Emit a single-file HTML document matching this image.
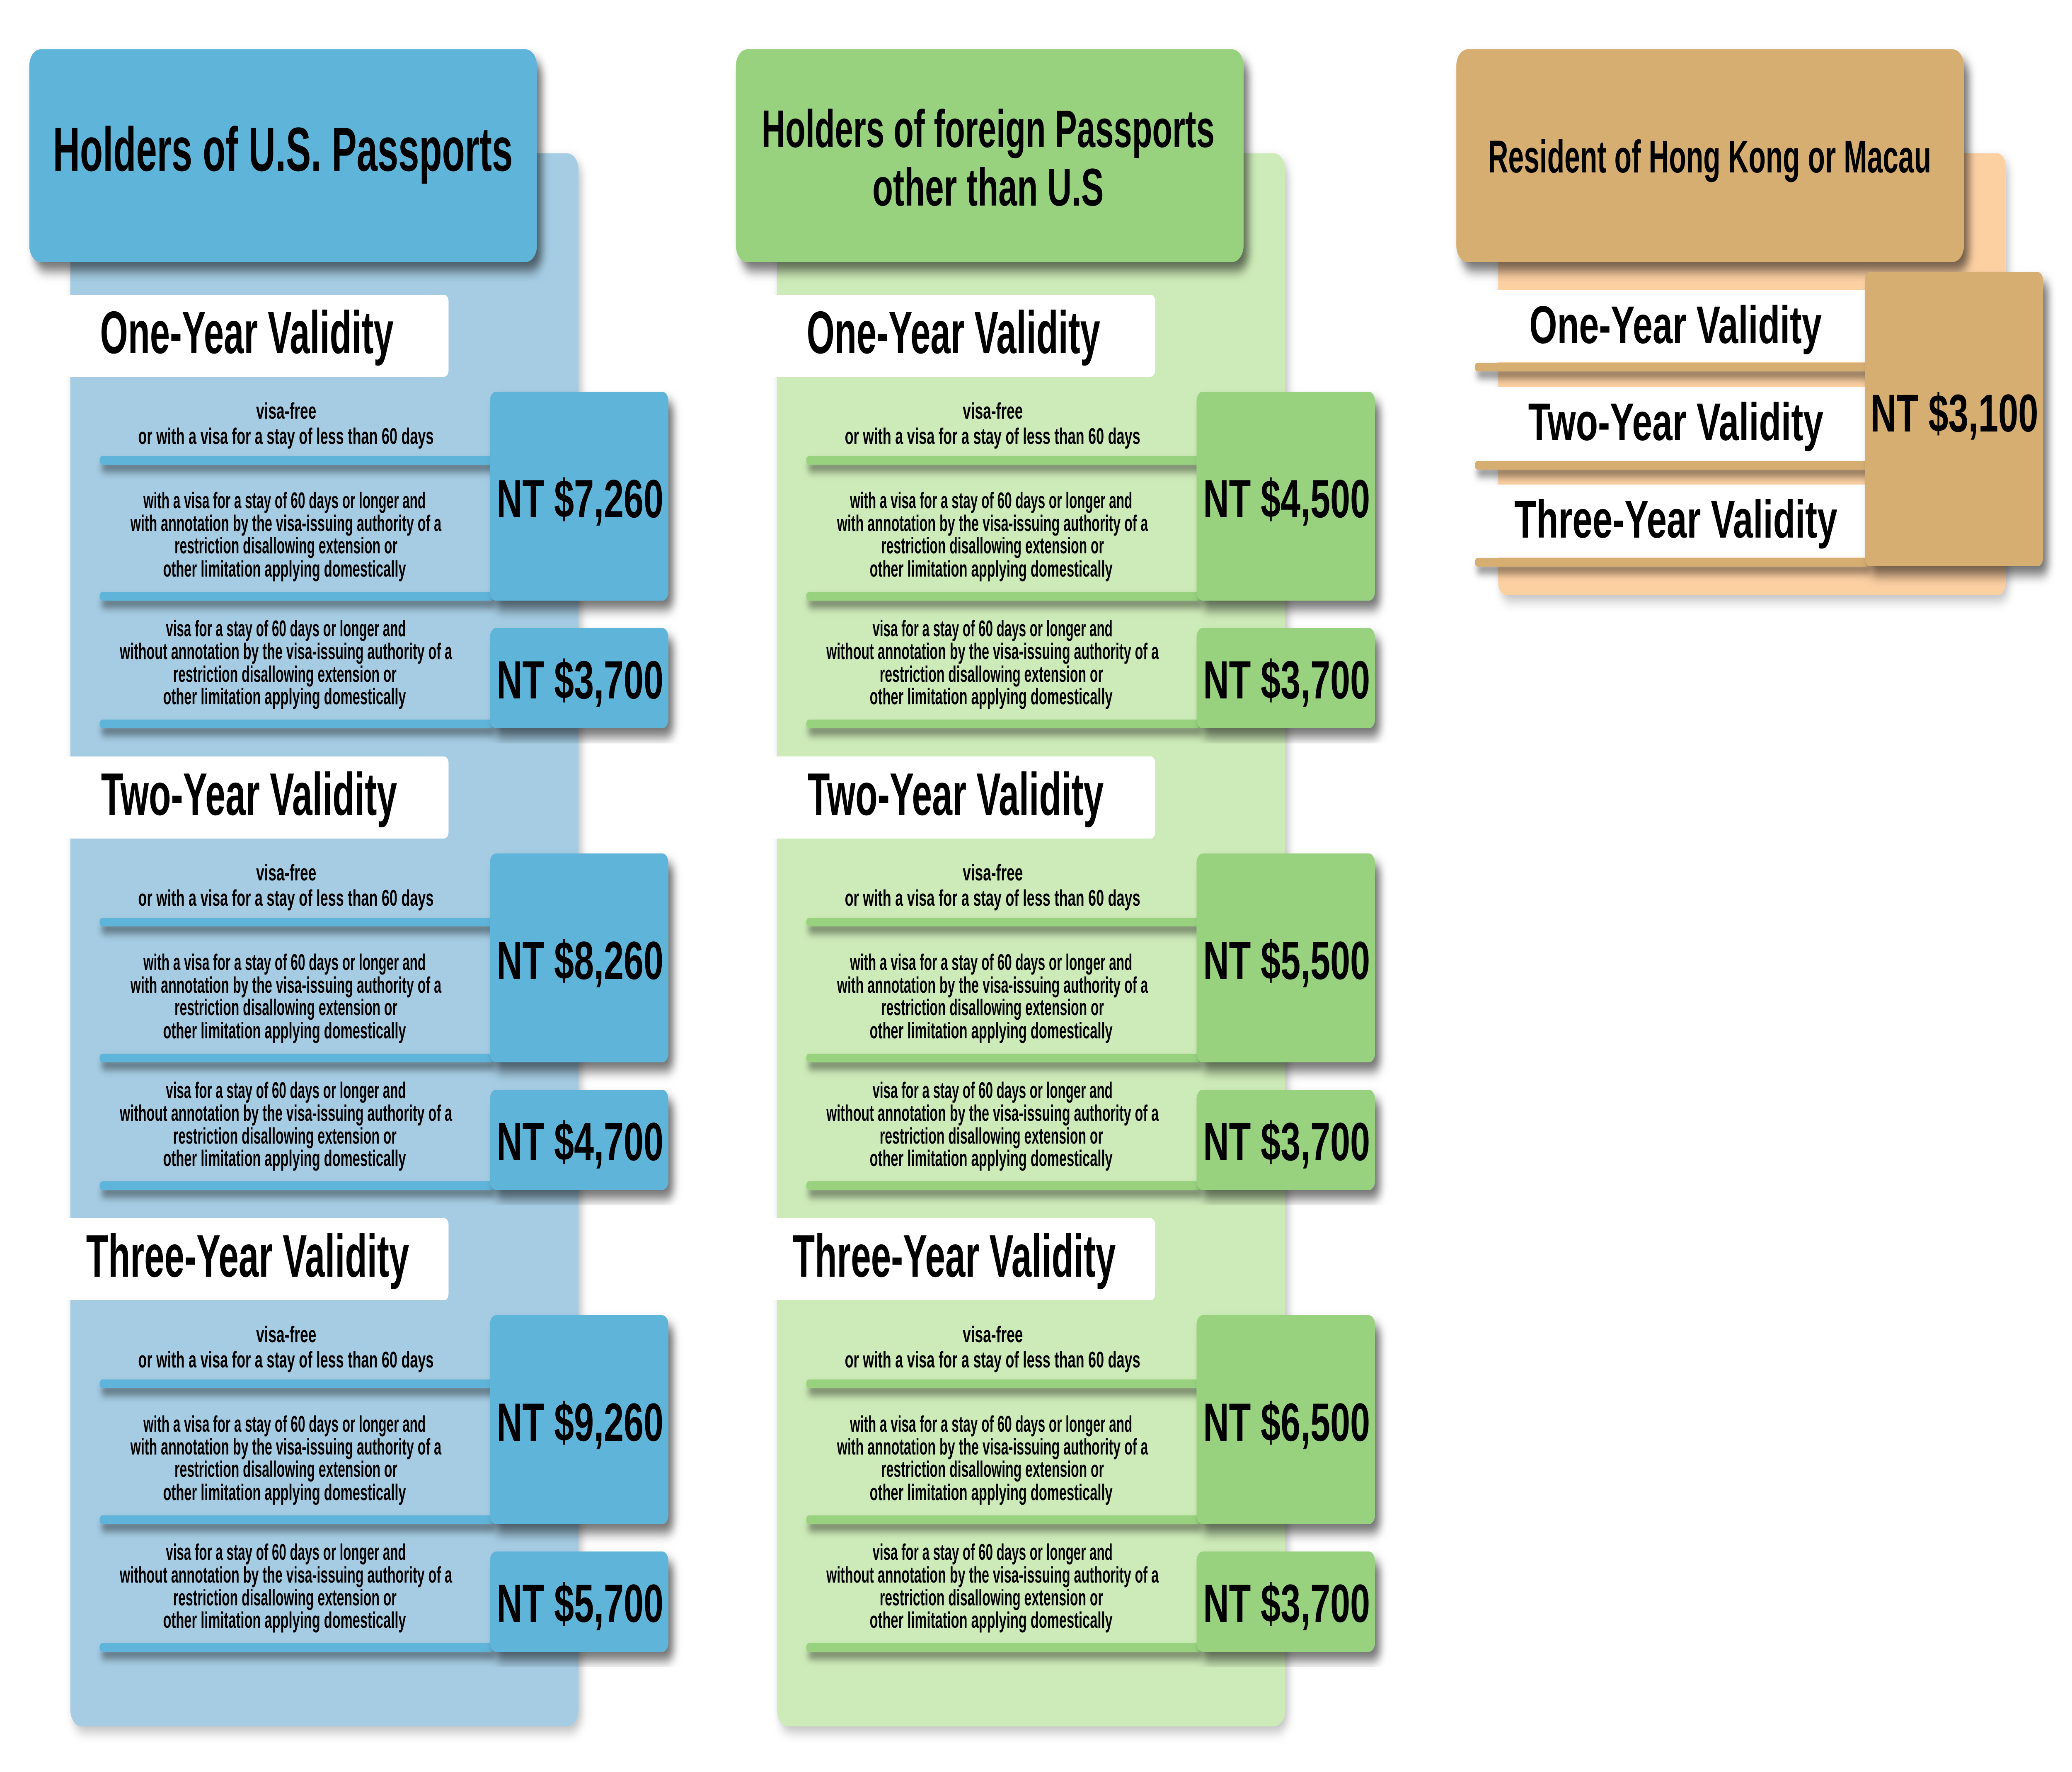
<!DOCTYPE html>
<html><head><meta charset="utf-8"><style>
html,body{margin:0;padding:0;background:#fff;width:100%;height:100%;overflow:hidden;}
svg{display:block;position:absolute;left:0;top:0;width:100vw;height:100vh;overflow:hidden;}
text{font-family:"Liberation Sans",sans-serif;font-weight:bold;fill:#000;}
</style></head><body>
<svg viewBox="0 0 7363 4275" preserveAspectRatio="none" xmlns="http://www.w3.org/2000/svg">
<defs>
<filter id="sh" x="-10%" y="-10%" width="125%" height="125%"><feDropShadow dx="18" dy="22" stdDeviation="14" flood-color="#000" flood-opacity="0.55"/></filter>
<filter id="shl" x="-2%" y="-100%" width="104%" height="500%"><feDropShadow dx="6" dy="16" stdDeviation="10" flood-color="#000" flood-opacity="0.5"/></filter>
<filter id="shs" x="-5%" y="-5%" width="110%" height="110%"><feDropShadow dx="10" dy="14" stdDeviation="14" flood-color="#000" flood-opacity="0.25"/></filter>
</defs>

<rect x="250" y="370" width="1806" height="3795" rx="40" fill="#a5cce3" filter="url(#shs)"/>
<rect x="104" y="119" width="1804" height="513" rx="40" fill="#5fb4d9" filter="url(#sh)"/>
<text x="1005" y="412" font-size="150" text-anchor="middle" textLength="1634" lengthAdjust="spacingAndGlyphs">Holders of U.S. Passports</text>

<g transform="translate(2511,0)">
<rect x="250" y="370" width="1806" height="3795" rx="40" fill="#cdebb8" filter="url(#shs)"/>
<rect x="104" y="119" width="1804" height="513" rx="40" fill="#98d27f" filter="url(#sh)"/>
<text x="1000" y="355" font-size="128" text-anchor="middle" textLength="1610" lengthAdjust="spacingAndGlyphs">Holders of foreign Passports</text>
<text x="1000" y="496" font-size="128" text-anchor="middle" textLength="822" lengthAdjust="spacingAndGlyphs">other than U.S</text>
</g>

<g transform="translate(0,711)">
<rect x="223" y="0" width="1371" height="198" rx="16" fill="#fff"/>
<text x="877" y="141" font-size="145" text-anchor="middle" textLength="1043" lengthAdjust="spacingAndGlyphs">One-Year Validity</text>
<text x="1017" y="299" font-size="55" text-anchor="middle" textLength="214" lengthAdjust="spacingAndGlyphs">visa-free</text>
<text x="1016" y="360" font-size="55" text-anchor="middle" textLength="1050" lengthAdjust="spacingAndGlyphs">or with a visa for a stay of less than 60 days</text>
<text x="1011" y="515" font-size="55" text-anchor="middle" textLength="1003" lengthAdjust="spacingAndGlyphs">with a visa for a stay of 60 days or longer and</text>
<text x="1016" y="570" font-size="55" text-anchor="middle" textLength="1105" lengthAdjust="spacingAndGlyphs">with annotation by the visa-issuing authority of a</text>
<text x="1016" y="624" font-size="55" text-anchor="middle" textLength="792" lengthAdjust="spacingAndGlyphs">restriction disallowing extension or</text>
<text x="1011" y="680" font-size="55" text-anchor="middle" textLength="863" lengthAdjust="spacingAndGlyphs">other limitation applying domestically</text>
<text x="1016" y="824" font-size="55" text-anchor="middle" textLength="853" lengthAdjust="spacingAndGlyphs">visa for a stay of 60 days or longer and</text>
<text x="1016" y="879" font-size="55" text-anchor="middle" textLength="1181" lengthAdjust="spacingAndGlyphs">without annotation by the visa-issuing authority of a</text>
<text x="1012" y="934" font-size="55" text-anchor="middle" textLength="794" lengthAdjust="spacingAndGlyphs">restriction disallowing extension or</text>
<text x="1011" y="988" font-size="55" text-anchor="middle" textLength="863" lengthAdjust="spacingAndGlyphs">other limitation applying domestically</text>
<rect x="354" y="389" width="1400" height="21" rx="10" fill="#5fb4d9" filter="url(#shl)"/>
<rect x="354" y="717" width="1400" height="21" rx="10" fill="#5fb4d9" filter="url(#shl)"/>
<rect x="354" y="1025" width="1400" height="21" rx="10" fill="#5fb4d9" filter="url(#shl)"/>
<rect x="1741" y="234" width="634" height="504" rx="22" fill="#5fb4d9" filter="url(#sh)"/>
<rect x="1741" y="804" width="634" height="242" rx="22" fill="#5fb4d9" filter="url(#sh)"/>
<text x="2061" y="537" font-size="130" text-anchor="middle" textLength="593" lengthAdjust="spacingAndGlyphs">NT $7,260</text>
<text x="2061" y="974" font-size="130" text-anchor="middle" textLength="593" lengthAdjust="spacingAndGlyphs">NT $3,700</text>
</g>

<g transform="translate(0,1825)">
<rect x="223" y="0" width="1371" height="198" rx="16" fill="#fff"/>
<text x="885" y="141" font-size="145" text-anchor="middle" textLength="1052" lengthAdjust="spacingAndGlyphs">Two-Year Validity</text>
<text x="1017" y="299" font-size="55" text-anchor="middle" textLength="214" lengthAdjust="spacingAndGlyphs">visa-free</text>
<text x="1016" y="360" font-size="55" text-anchor="middle" textLength="1050" lengthAdjust="spacingAndGlyphs">or with a visa for a stay of less than 60 days</text>
<text x="1011" y="515" font-size="55" text-anchor="middle" textLength="1003" lengthAdjust="spacingAndGlyphs">with a visa for a stay of 60 days or longer and</text>
<text x="1016" y="570" font-size="55" text-anchor="middle" textLength="1105" lengthAdjust="spacingAndGlyphs">with annotation by the visa-issuing authority of a</text>
<text x="1016" y="624" font-size="55" text-anchor="middle" textLength="792" lengthAdjust="spacingAndGlyphs">restriction disallowing extension or</text>
<text x="1011" y="680" font-size="55" text-anchor="middle" textLength="863" lengthAdjust="spacingAndGlyphs">other limitation applying domestically</text>
<text x="1016" y="824" font-size="55" text-anchor="middle" textLength="853" lengthAdjust="spacingAndGlyphs">visa for a stay of 60 days or longer and</text>
<text x="1016" y="879" font-size="55" text-anchor="middle" textLength="1181" lengthAdjust="spacingAndGlyphs">without annotation by the visa-issuing authority of a</text>
<text x="1012" y="934" font-size="55" text-anchor="middle" textLength="794" lengthAdjust="spacingAndGlyphs">restriction disallowing extension or</text>
<text x="1011" y="988" font-size="55" text-anchor="middle" textLength="863" lengthAdjust="spacingAndGlyphs">other limitation applying domestically</text>
<rect x="354" y="389" width="1400" height="21" rx="10" fill="#5fb4d9" filter="url(#shl)"/>
<rect x="354" y="717" width="1400" height="21" rx="10" fill="#5fb4d9" filter="url(#shl)"/>
<rect x="354" y="1025" width="1400" height="21" rx="10" fill="#5fb4d9" filter="url(#shl)"/>
<rect x="1741" y="234" width="634" height="504" rx="22" fill="#5fb4d9" filter="url(#sh)"/>
<rect x="1741" y="804" width="634" height="242" rx="22" fill="#5fb4d9" filter="url(#sh)"/>
<text x="2061" y="537" font-size="130" text-anchor="middle" textLength="593" lengthAdjust="spacingAndGlyphs">NT $8,260</text>
<text x="2061" y="974" font-size="130" text-anchor="middle" textLength="593" lengthAdjust="spacingAndGlyphs">NT $4,700</text>
</g>

<g transform="translate(0,2939)">
<rect x="223" y="0" width="1371" height="198" rx="16" fill="#fff"/>
<text x="880" y="141" font-size="145" text-anchor="middle" textLength="1148" lengthAdjust="spacingAndGlyphs">Three-Year Validity</text>
<text x="1017" y="299" font-size="55" text-anchor="middle" textLength="214" lengthAdjust="spacingAndGlyphs">visa-free</text>
<text x="1016" y="360" font-size="55" text-anchor="middle" textLength="1050" lengthAdjust="spacingAndGlyphs">or with a visa for a stay of less than 60 days</text>
<text x="1011" y="515" font-size="55" text-anchor="middle" textLength="1003" lengthAdjust="spacingAndGlyphs">with a visa for a stay of 60 days or longer and</text>
<text x="1016" y="570" font-size="55" text-anchor="middle" textLength="1105" lengthAdjust="spacingAndGlyphs">with annotation by the visa-issuing authority of a</text>
<text x="1016" y="624" font-size="55" text-anchor="middle" textLength="792" lengthAdjust="spacingAndGlyphs">restriction disallowing extension or</text>
<text x="1011" y="680" font-size="55" text-anchor="middle" textLength="863" lengthAdjust="spacingAndGlyphs">other limitation applying domestically</text>
<text x="1016" y="824" font-size="55" text-anchor="middle" textLength="853" lengthAdjust="spacingAndGlyphs">visa for a stay of 60 days or longer and</text>
<text x="1016" y="879" font-size="55" text-anchor="middle" textLength="1181" lengthAdjust="spacingAndGlyphs">without annotation by the visa-issuing authority of a</text>
<text x="1012" y="934" font-size="55" text-anchor="middle" textLength="794" lengthAdjust="spacingAndGlyphs">restriction disallowing extension or</text>
<text x="1011" y="988" font-size="55" text-anchor="middle" textLength="863" lengthAdjust="spacingAndGlyphs">other limitation applying domestically</text>
<rect x="354" y="389" width="1400" height="21" rx="10" fill="#5fb4d9" filter="url(#shl)"/>
<rect x="354" y="717" width="1400" height="21" rx="10" fill="#5fb4d9" filter="url(#shl)"/>
<rect x="354" y="1025" width="1400" height="21" rx="10" fill="#5fb4d9" filter="url(#shl)"/>
<rect x="1741" y="234" width="634" height="504" rx="22" fill="#5fb4d9" filter="url(#sh)"/>
<rect x="1741" y="804" width="634" height="242" rx="22" fill="#5fb4d9" filter="url(#sh)"/>
<text x="2061" y="537" font-size="130" text-anchor="middle" textLength="593" lengthAdjust="spacingAndGlyphs">NT $9,260</text>
<text x="2061" y="974" font-size="130" text-anchor="middle" textLength="593" lengthAdjust="spacingAndGlyphs">NT $5,700</text>
</g>

<g transform="translate(2511,711)">
<rect x="223" y="0" width="1371" height="198" rx="16" fill="#fff"/>
<text x="877" y="141" font-size="145" text-anchor="middle" textLength="1043" lengthAdjust="spacingAndGlyphs">One-Year Validity</text>
<text x="1017" y="299" font-size="55" text-anchor="middle" textLength="214" lengthAdjust="spacingAndGlyphs">visa-free</text>
<text x="1016" y="360" font-size="55" text-anchor="middle" textLength="1050" lengthAdjust="spacingAndGlyphs">or with a visa for a stay of less than 60 days</text>
<text x="1011" y="515" font-size="55" text-anchor="middle" textLength="1003" lengthAdjust="spacingAndGlyphs">with a visa for a stay of 60 days or longer and</text>
<text x="1016" y="570" font-size="55" text-anchor="middle" textLength="1105" lengthAdjust="spacingAndGlyphs">with annotation by the visa-issuing authority of a</text>
<text x="1016" y="624" font-size="55" text-anchor="middle" textLength="792" lengthAdjust="spacingAndGlyphs">restriction disallowing extension or</text>
<text x="1011" y="680" font-size="55" text-anchor="middle" textLength="863" lengthAdjust="spacingAndGlyphs">other limitation applying domestically</text>
<text x="1016" y="824" font-size="55" text-anchor="middle" textLength="853" lengthAdjust="spacingAndGlyphs">visa for a stay of 60 days or longer and</text>
<text x="1016" y="879" font-size="55" text-anchor="middle" textLength="1181" lengthAdjust="spacingAndGlyphs">without annotation by the visa-issuing authority of a</text>
<text x="1012" y="934" font-size="55" text-anchor="middle" textLength="794" lengthAdjust="spacingAndGlyphs">restriction disallowing extension or</text>
<text x="1011" y="988" font-size="55" text-anchor="middle" textLength="863" lengthAdjust="spacingAndGlyphs">other limitation applying domestically</text>
<rect x="354" y="389" width="1400" height="21" rx="10" fill="#98d27f" filter="url(#shl)"/>
<rect x="354" y="717" width="1400" height="21" rx="10" fill="#98d27f" filter="url(#shl)"/>
<rect x="354" y="1025" width="1400" height="21" rx="10" fill="#98d27f" filter="url(#shl)"/>
<rect x="1741" y="234" width="634" height="504" rx="22" fill="#98d27f" filter="url(#sh)"/>
<rect x="1741" y="804" width="634" height="242" rx="22" fill="#98d27f" filter="url(#sh)"/>
<text x="2061" y="537" font-size="130" text-anchor="middle" textLength="593" lengthAdjust="spacingAndGlyphs">NT $4,500</text>
<text x="2061" y="974" font-size="130" text-anchor="middle" textLength="593" lengthAdjust="spacingAndGlyphs">NT $3,700</text>
</g>

<g transform="translate(2511,1825)">
<rect x="223" y="0" width="1371" height="198" rx="16" fill="#fff"/>
<text x="885" y="141" font-size="145" text-anchor="middle" textLength="1052" lengthAdjust="spacingAndGlyphs">Two-Year Validity</text>
<text x="1017" y="299" font-size="55" text-anchor="middle" textLength="214" lengthAdjust="spacingAndGlyphs">visa-free</text>
<text x="1016" y="360" font-size="55" text-anchor="middle" textLength="1050" lengthAdjust="spacingAndGlyphs">or with a visa for a stay of less than 60 days</text>
<text x="1011" y="515" font-size="55" text-anchor="middle" textLength="1003" lengthAdjust="spacingAndGlyphs">with a visa for a stay of 60 days or longer and</text>
<text x="1016" y="570" font-size="55" text-anchor="middle" textLength="1105" lengthAdjust="spacingAndGlyphs">with annotation by the visa-issuing authority of a</text>
<text x="1016" y="624" font-size="55" text-anchor="middle" textLength="792" lengthAdjust="spacingAndGlyphs">restriction disallowing extension or</text>
<text x="1011" y="680" font-size="55" text-anchor="middle" textLength="863" lengthAdjust="spacingAndGlyphs">other limitation applying domestically</text>
<text x="1016" y="824" font-size="55" text-anchor="middle" textLength="853" lengthAdjust="spacingAndGlyphs">visa for a stay of 60 days or longer and</text>
<text x="1016" y="879" font-size="55" text-anchor="middle" textLength="1181" lengthAdjust="spacingAndGlyphs">without annotation by the visa-issuing authority of a</text>
<text x="1012" y="934" font-size="55" text-anchor="middle" textLength="794" lengthAdjust="spacingAndGlyphs">restriction disallowing extension or</text>
<text x="1011" y="988" font-size="55" text-anchor="middle" textLength="863" lengthAdjust="spacingAndGlyphs">other limitation applying domestically</text>
<rect x="354" y="389" width="1400" height="21" rx="10" fill="#98d27f" filter="url(#shl)"/>
<rect x="354" y="717" width="1400" height="21" rx="10" fill="#98d27f" filter="url(#shl)"/>
<rect x="354" y="1025" width="1400" height="21" rx="10" fill="#98d27f" filter="url(#shl)"/>
<rect x="1741" y="234" width="634" height="504" rx="22" fill="#98d27f" filter="url(#sh)"/>
<rect x="1741" y="804" width="634" height="242" rx="22" fill="#98d27f" filter="url(#sh)"/>
<text x="2061" y="537" font-size="130" text-anchor="middle" textLength="593" lengthAdjust="spacingAndGlyphs">NT $5,500</text>
<text x="2061" y="974" font-size="130" text-anchor="middle" textLength="593" lengthAdjust="spacingAndGlyphs">NT $3,700</text>
</g>

<g transform="translate(2511,2939)">
<rect x="223" y="0" width="1371" height="198" rx="16" fill="#fff"/>
<text x="880" y="141" font-size="145" text-anchor="middle" textLength="1148" lengthAdjust="spacingAndGlyphs">Three-Year Validity</text>
<text x="1017" y="299" font-size="55" text-anchor="middle" textLength="214" lengthAdjust="spacingAndGlyphs">visa-free</text>
<text x="1016" y="360" font-size="55" text-anchor="middle" textLength="1050" lengthAdjust="spacingAndGlyphs">or with a visa for a stay of less than 60 days</text>
<text x="1011" y="515" font-size="55" text-anchor="middle" textLength="1003" lengthAdjust="spacingAndGlyphs">with a visa for a stay of 60 days or longer and</text>
<text x="1016" y="570" font-size="55" text-anchor="middle" textLength="1105" lengthAdjust="spacingAndGlyphs">with annotation by the visa-issuing authority of a</text>
<text x="1016" y="624" font-size="55" text-anchor="middle" textLength="792" lengthAdjust="spacingAndGlyphs">restriction disallowing extension or</text>
<text x="1011" y="680" font-size="55" text-anchor="middle" textLength="863" lengthAdjust="spacingAndGlyphs">other limitation applying domestically</text>
<text x="1016" y="824" font-size="55" text-anchor="middle" textLength="853" lengthAdjust="spacingAndGlyphs">visa for a stay of 60 days or longer and</text>
<text x="1016" y="879" font-size="55" text-anchor="middle" textLength="1181" lengthAdjust="spacingAndGlyphs">without annotation by the visa-issuing authority of a</text>
<text x="1012" y="934" font-size="55" text-anchor="middle" textLength="794" lengthAdjust="spacingAndGlyphs">restriction disallowing extension or</text>
<text x="1011" y="988" font-size="55" text-anchor="middle" textLength="863" lengthAdjust="spacingAndGlyphs">other limitation applying domestically</text>
<rect x="354" y="389" width="1400" height="21" rx="10" fill="#98d27f" filter="url(#shl)"/>
<rect x="354" y="717" width="1400" height="21" rx="10" fill="#98d27f" filter="url(#shl)"/>
<rect x="354" y="1025" width="1400" height="21" rx="10" fill="#98d27f" filter="url(#shl)"/>
<rect x="1741" y="234" width="634" height="504" rx="22" fill="#98d27f" filter="url(#sh)"/>
<rect x="1741" y="804" width="634" height="242" rx="22" fill="#98d27f" filter="url(#sh)"/>
<text x="2061" y="537" font-size="130" text-anchor="middle" textLength="593" lengthAdjust="spacingAndGlyphs">NT $6,500</text>
<text x="2061" y="974" font-size="130" text-anchor="middle" textLength="593" lengthAdjust="spacingAndGlyphs">NT $3,700</text>
</g>

<rect x="5324" y="370" width="1803" height="1066" rx="30" fill="#fdd0a2" filter="url(#shs)"/>
<rect x="5175" y="119" width="1804" height="513" rx="40" fill="#d6ae72" filter="url(#sh)"/>
<text x="6075" y="416" font-size="110" text-anchor="middle" textLength="1575" lengthAdjust="spacingAndGlyphs">Resident of Hong Kong or Macau</text>
<rect x="5241" y="699" width="1386" height="175" fill="#fff"/>
<rect x="5241" y="933" width="1386" height="179" fill="#fff"/>
<rect x="5241" y="1169" width="1386" height="176" fill="#fff"/>
<text x="5954" y="828" font-size="128" text-anchor="middle" textLength="1039" lengthAdjust="spacingAndGlyphs">One-Year Validity</text>
<text x="5955" y="1062" font-size="128" text-anchor="middle" textLength="1049" lengthAdjust="spacingAndGlyphs">Two-Year Validity</text>
<text x="5955" y="1297" font-size="128" text-anchor="middle" textLength="1148" lengthAdjust="spacingAndGlyphs">Three-Year Validity</text>
<rect x="5241" y="875" width="1400" height="21" rx="10" fill="#d6ae72" filter="url(#shl)"/>
<rect x="5241" y="1112" width="1400" height="21" rx="10" fill="#d6ae72" filter="url(#shl)"/>
<rect x="5241" y="1346" width="1400" height="21" rx="10" fill="#d6ae72" filter="url(#shl)"/>
<rect x="6627" y="656" width="633" height="710" rx="20" fill="#d6ae72" filter="url(#sh)"/>
<text x="6945" y="1041" font-size="128" text-anchor="middle" textLength="596" lengthAdjust="spacingAndGlyphs">NT $3,100</text>
</svg>
</body></html>
